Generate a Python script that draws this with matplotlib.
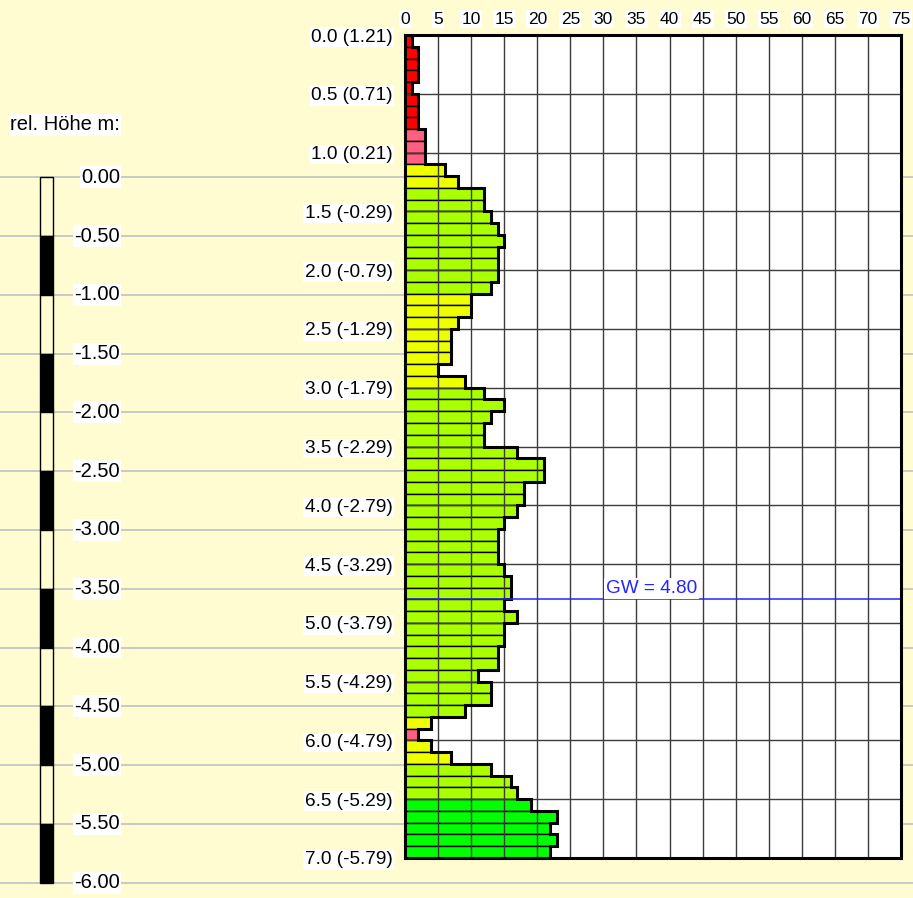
import numpy as np
import matplotlib
matplotlib.use("Agg")
import matplotlib.pyplot as plt
from matplotlib.patches import Rectangle
from matplotlib.lines import Line2D
from matplotlib.transforms import blended_transform_factory

plt.rcParams['font.family'] = ['Liberation Sans', 'DejaVu Sans']

# blows per 10 cm, from 0.0 m down to 7.0 m
schlaege = [1, 2, 2, 2, 1, 2, 2, 2, 3, 3,
            3, 6, 8, 12, 12, 13, 14, 15, 14, 14,
            14, 13, 10, 10, 8, 7, 7, 7, 5, 9,
            12, 15, 13, 12, 12, 17, 21, 21, 18, 18,
            17, 15, 14, 14, 14, 15, 16, 16, 15, 17,
            15, 15, 14, 14, 11, 13, 13, 9, 4, 2,
            4, 7, 13, 16, 17, 19, 23, 22, 23, 22]
# soil class of each 10 cm step
klasse = ['r'] * 8 + ['p'] * 3 + ['y'] * 2 + ['g'] * 9 + ['y'] * 8 + \
         ['g'] * 28 + ['y', 'p', 'y', 'y'] + ['g'] * 3 + ['G'] * 5
farben = {'r': '#FF0000', 'p': '#FF6080', 'y': '#EEFF00', 'g': '#AAFF00', 'G': '#00FF00'}

ansatz = 1.21          # relative height of the start point
gw = 4.80              # ground water depth
x_ticks = list(range(0, 80, 5))
tiefe_ticks = np.arange(0, 7.01, 0.5)
rel_ticks = np.arange(0, -6.01, -0.5)

W, H = 913, 898
bg = '#FFFCD2'
fig = plt.figure(figsize=(W / 100, H / 100), dpi=100, facecolor=bg)
ax = fig.add_axes([405 / W, 1 - 858 / H, (901 - 405) / W, (858 - 35) / H])
ax.set_facecolor('white')
ax.set_xlim(0, 75)
ax.set_ylim(7, 0)

tiefe = np.arange(len(schlaege)) * 0.1
ax.barh(tiefe, schlaege, height=0.1, align='edge',
        color=[farben[k] for k in klasse], edgecolor='black', linewidth=1.0, zorder=2)

# outer step contour
xs = np.concatenate([[0], np.repeat(schlaege, 2), [0]])
kanten = np.append(tiefe, 7.0)
ys = np.concatenate([[0], np.repeat(kanten, 2)[1:-1], [7.0]])
ax.plot(xs, ys, color='black', lw=2.2, zorder=3, solid_joinstyle='miter')

# grid over the bars
ax.vlines(x_ticks[1:-1], 0, 7, color='#3c3c3c', lw=1.0, zorder=2.5)
ax.hlines(tiefe_ticks[1:-1], 0, 75, color='#3c3c3c', lw=1.0, zorder=2.5)

# ground water
ax.axhline(gw, color='#2525FF', lw=1.1, zorder=4)
ax.text(30.4, gw - 0.02, 'GW = %.2f' % gw, color='#2525FF', fontsize=13.7,
        ha='left', va='bottom', zorder=5,
        bbox=dict(facecolor='white', edgecolor='none', pad=1.5))

for s in ax.spines.values():
    s.set_linewidth(2.2)
    s.set_zorder(6)

ax.xaxis.tick_top()
ax.set_xticks(x_ticks)
ax.set_xticklabels([str(t) for t in x_ticks])
ax.set_yticks(tiefe_ticks)
ax.set_yticklabels(['%.1f (%.2f)' % (d, ansatz - d) for d in tiefe_ticks])
ax.tick_params(length=0)
ax.tick_params(axis='x', pad=6, labelsize=12.5)
ax.tick_params(axis='y', pad=9, labelsize=13.7)
for lbl in ax.get_xticklabels() + ax.get_yticklabels():
    lbl.set_bbox(dict(facecolor='white', edgecolor='none', pad=1))

# relative height scale on the left
trans = blended_transform_factory(fig.transFigure, ax.transData)
for i, r in enumerate(rel_ticks):
    d = ansatz - r
    fig.add_artist(Line2D([0, 1], [d, d], transform=trans, color='#C4C4C4', lw=1.3, zorder=-1))
    fig.text(120 / W, d, '%.2f' % r, transform=trans, ha='right', va='center',
             fontsize=14.5, bbox=dict(facecolor='white', edgecolor='none', pad=1))
    if i < len(rel_ticks) - 1:
        fc = bg if i % 2 == 0 else 'black'
        fig.add_artist(Rectangle((40 / W, d), 13 / W, 0.5, transform=trans,
                                 facecolor=fc, edgecolor='black', lw=1.0, zorder=1))

fig.text(10 / W, 1 - 125 / H, 'rel. Höhe m:', ha='left', va='center', fontsize=14.5,
         bbox=dict(facecolor='white', edgecolor='none', pad=1))

fig.savefig('out.png', dpi=100, facecolor=bg)
